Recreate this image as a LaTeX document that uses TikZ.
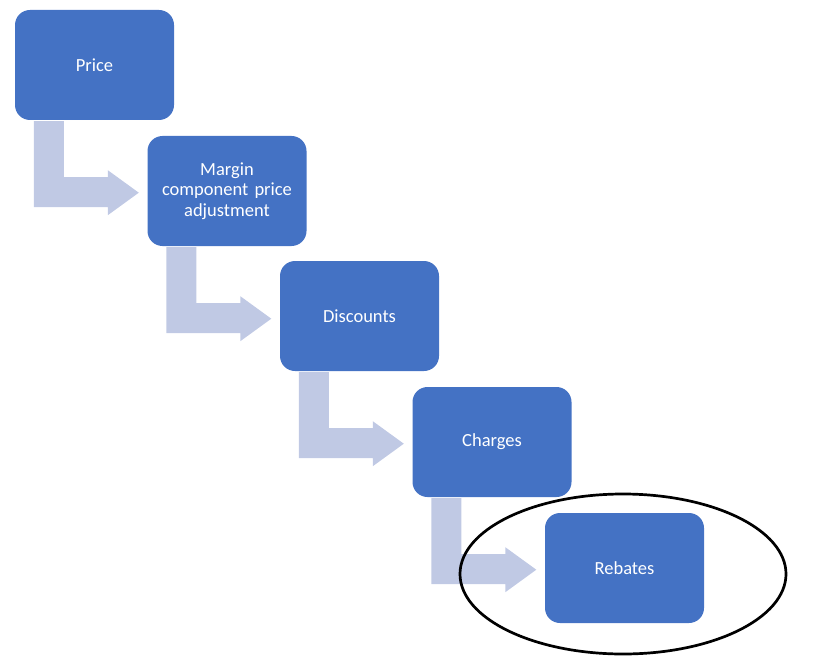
\documentclass[tikz,border=0pt]{standalone}
\usepackage{fontspec}
\setmainfont{Carlito}
\usetikzlibrary{shapes.geometric}
\definecolor{stepblue}{RGB}{68,114,196}
\definecolor{flowgray}{RGB}{192,201,228}
\tikzset{
  stepbox/.style={fill=stepblue, rounded corners=15pt, minimum width=159pt, minimum height=110pt,
    text width=150pt, align=center, text=white, inner sep=0pt,
    font=\fontsize{18.5}{20.5}\selectfont},
  flow/.style={fill=flowgray}
}
\begin{document}
\begin{tikzpicture}[x=1pt,y=-1pt]
\useasboundingbox (0,0) rectangle (818,660);

% steps down the stair
\node[stepbox] (price) at (94.5,65) {Price};
\node[stepbox] (margin) at (227,191) {Margin\\component price\\adjustment};
\node[stepbox] (discounts) at (359.5,316) {Discounts};
\node[stepbox] (charges) at (492,442) {Charges};
\node[stepbox] (rebates) at (624.5,568) {Rebates};

% bent arrows under each box
\fill[flow,shift={(price.south west)}] (19,1) -- (49,1) -- (49,57) -- (93,57) -- (93,50) -- (124,72.5) -- (93,95) -- (93,87) -- (19,87) -- cycle;
\fill[flow,shift={(margin.south west)}] (19,1) -- (49,1) -- (49,57) -- (93,57) -- (93,50) -- (124,72.5) -- (93,95) -- (93,87) -- (19,87) -- cycle;
\fill[flow,shift={(discounts.south west)}] (19,1) -- (49,1) -- (49,57) -- (93,57) -- (93,50) -- (124,72.5) -- (93,95) -- (93,87) -- (19,87) -- cycle;
\fill[flow,shift={(charges.south west)}] (19,1) -- (49,1) -- (49,57) -- (93,57) -- (93,50) -- (124,72.5) -- (93,95) -- (93,87) -- (19,87) -- cycle;

% ring round the last step
\node[draw, ellipse, line width=2.7pt, minimum width=326pt, minimum height=160pt, inner sep=0pt] (focus) at (623,574) {};
\end{tikzpicture}
\end{document}
